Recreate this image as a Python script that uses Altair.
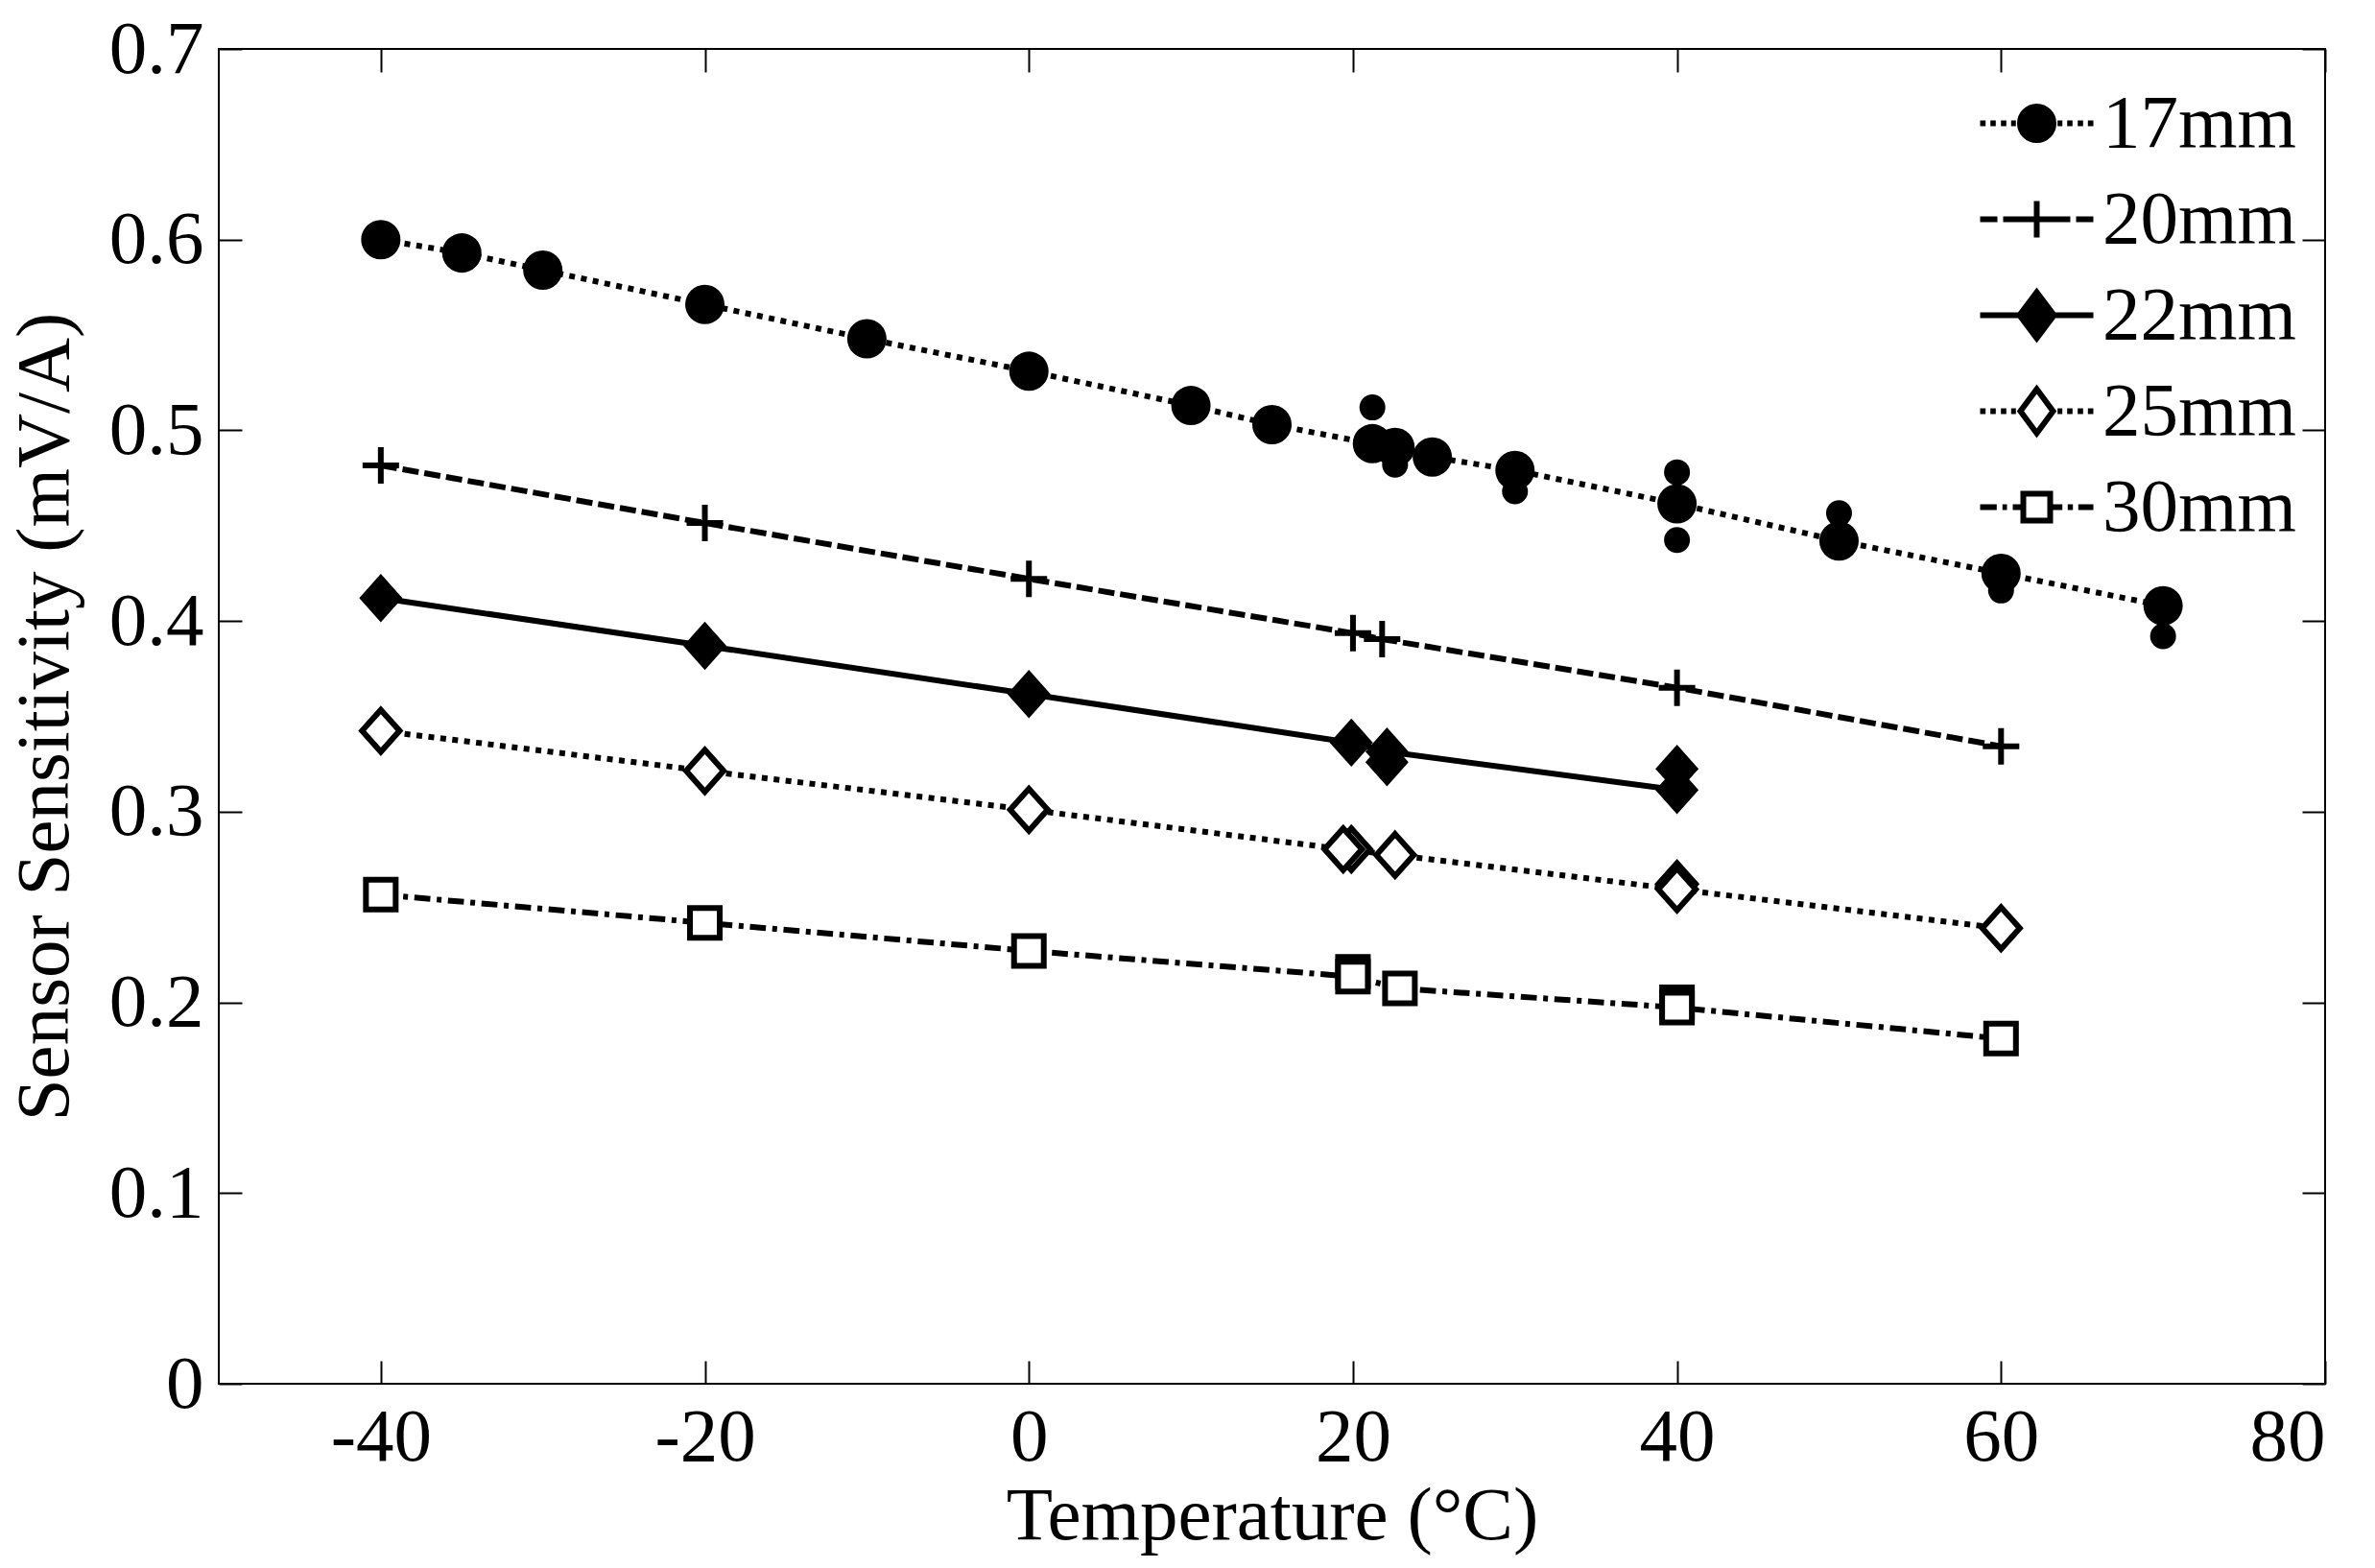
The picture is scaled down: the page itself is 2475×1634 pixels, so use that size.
import altair as alt
import pandas as pd

# ---------------- data ----------------
series_names = ["17mm", "20mm", "22mm", "25mm", "30mm"]

t17 = [-40, -35, -30, -20, -10, 0, 10, 15, 21.2, 22.6, 24.9, 30, 40, 50, 60, 70]
s17 = [0.600, 0.593, 0.584, 0.566, 0.548, 0.531, 0.513, 0.503, 0.493, 0.491,
       0.486, 0.479, 0.4615, 0.442, 0.425, 0.408]
t17x = [21.2, 22.6, 30, 40, 40, 50, 60, 70]
s17x = [0.512, 0.482, 0.468, 0.478, 0.4425, 0.4565, 0.416, 0.392]

t20 = [-40, -20, 0, 20, 21.8, 40, 60]
s20 = [0.4816, 0.4514, 0.4221, 0.3936, 0.3905, 0.3650, 0.3343]

t22 = [-40, -20, 0, 19.9, 22.1, 40]
s22 = [0.412, 0.387, 0.3617, 0.3362, 0.3315, 0.3114]
t22x = [22.1, 40]
s22x = [0.326, 0.3225]

t25 = [-40, -20, 0, 19.4, 22.6, 40, 60]
s25 = [0.3424, 0.3214, 0.301, 0.2803, 0.2773, 0.2593, 0.2389]
t25x = [19.9, 40]
s25x = [0.2803, 0.262]

t30 = [-40, -20, 0, 20, 22.9, 40, 60]
s30 = [0.2565, 0.2417, 0.227, 0.2135, 0.2073, 0.1973, 0.181]
t30x = [20, 40]
s30x = [0.216, 0.200]

x_ticks = [-40, -20, 0, 20, 40, 60, 80]
y_ticks = [0, 0.1, 0.2, 0.3, 0.4, 0.5, 0.6, 0.7]

# ---------------- styling ----------------
FONT = "Liberation Serif"
FS = 79
W, H = 2195, 1391
TICK = 24
LW = 6

xscale = alt.Scale(domain=[-50, 80], nice=False, zero=False)
yscale = alt.Scale(domain=[0, 0.7], nice=False, zero=False)


def df(ts, ss, name):
    return pd.DataFrame({"T": ts, "S": ss, "series": name})


d17, d17x = df(t17, s17, "17mm"), df(t17x, s17x, "17mm")
d20 = df(t20, s20, "20mm")
d22, d22x = df(t22, s22, "22mm"), df(t22x, s22x, "22mm")
d25, d25x = df(t25, s25, "25mm"), df(t25x, s25x, "25mm")
d30, d30x = df(t30, s30, "30mm"), df(t30x, s30x, "30mm")
all_df = pd.concat([d17, d20, d22, d25, d30], ignore_index=True)

x_main = alt.X(
    "T:Q", scale=xscale,
    axis=alt.Axis(values=x_ticks, labelExpr="'' + datum.value", tickSize=0,
                  domain=False, grid=False, labelPadding=17,
                  title="Temperature (°C)", titleX=W / 2, titleY=161,
                  titleBaseline="alphabetic", titleAlign="center"),
)
y_main = alt.Y(
    "S:Q", scale=yscale,
    axis=alt.Axis(values=y_ticks, labelExpr="'' + datum.value", tickSize=0,
                  domain=False, grid=False, labelPadding=16,
                  title="Sensor Sensitivity (mV/A)", titleX=-158, titleY=H / 2,
                  titleAngle=270, titleBaseline="alphabetic", titleAlign="center"),
)
x_plain = alt.X("T:Q", scale=xscale)
y_plain = alt.Y("S:Q", scale=yscale)

DOT = [6, 6.5]
DASH = [17, 6]
DASHDOT = [16.7, 6.7, 5, 6.7]

PLUS = "M-1,0H1M0,-1V1"
DIAM = "M0,-1.12L1,0L0,1.12L-1,0Z"


def line(d, dash):
    kw = dict(color="black", strokeWidth=LW, strokeCap="butt")
    if dash:
        kw["strokeDash"] = dash
    return alt.Chart(d).mark_line(**kw).encode(x=x_plain, y=y_plain)


def pts(d, **kw):
    return alt.Chart(d).mark_point(opacity=1, **kw).encode(x=x_plain, y=y_plain)


base_line17 = alt.Chart(d17).mark_line(color="black", strokeWidth=LW, strokeCap="butt",
                                       strokeDash=DOT).encode(x=x_main, y=y_main)

data_layer = alt.layer(
    base_line17,
    pts(d17x, shape="circle", size=729, filled=True, color="black", strokeWidth=0),
    pts(d17, shape="circle", size=1681, filled=True, color="black", strokeWidth=0),
    line(d20, DASH),
    pts(d20, shape=PLUS, size=1444, filled=False, stroke="black", strokeWidth=6),
    line(d22, None),
    pts(d22x, shape=DIAM, size=2025, filled=True, color="black", strokeWidth=0),
    pts(d22, shape=DIAM, size=2025, filled=True, color="black", strokeWidth=0),
    line(d25, DOT),
    pts(d25x, shape=DIAM, size=1521, filled=True, fill="white", stroke="black", strokeWidth=6),
    pts(d25, shape=DIAM, size=1521, filled=True, fill="white", stroke="black", strokeWidth=6),
    line(d30, DASHDOT),
    pts(d30x, shape="square", size=961, filled=True, fill="white", stroke="black", strokeWidth=6),
    pts(d30, shape="square", size=961, filled=True, fill="white", stroke="black", strokeWidth=6),
)


def tick_axis(orient_x, orient_y):
    return alt.Chart(all_df).mark_point(opacity=0).encode(
        x=alt.X("T:Q", scale=xscale,
                axis=alt.Axis(orient=orient_x, values=x_ticks, labels=False, domain=False,
                              grid=False, tickSize=TICK, tickWidth=2, offset=-TICK, title=None)),
        y=alt.Y("S:Q", scale=yscale,
                axis=alt.Axis(orient=orient_y, values=y_ticks, labels=False, domain=False,
                              grid=False, tickSize=TICK, tickWidth=2, offset=-TICK, title=None)),
    )


ticks_bl = tick_axis("bottom", "left")
ticks_tr = tick_axis("top", "right")

# ---------------- legend (line sample + marker as custom symbol paths) ----------------
R = 30.0  # symbol unit in px (sqrt(symbolSize)/2)


def segs(intervals):
    return "".join(f"M{a / R:.4f},0H{b / R:.4f}" for a, b in intervals)


def circ(r):
    r = r / R
    return f"M{r:.4f},0A{r:.4f},{r:.4f},0,1,1,{-r:.4f},0A{r:.4f},{r:.4f},0,1,1,{r:.4f},0Z"


def diam(hw, hh):
    return f"M0,{-hh / R:.4f}L{hw / R:.4f},0L0,{hh / R:.4f}L{-hw / R:.4f},0Z"


def sq(h):
    h = h / R
    return f"M{-h:.4f},{-h:.4f}H{h:.4f}V{h:.4f}H{-h:.4f}Z"


dots_l = [(-59, -53.3), (-48.3, -42.7), (-37.3, -31.7), (-26.7, -21.7)]
dots_r = [(21.7, 26.7), (31.7, 37.3), (42.7, 48.3), (53.3, 59)]
leg_paths = [
    segs(dots_l + dots_r) + circ(17.5),
    segs([(-59, -41), (-35, -19), (19, 35), (41, 59)])
    + f"M{-19 / R:.4f},0H{19 / R:.4f}M0,{-19 / R:.4f}V{19 / R:.4f}",
    segs([(-59, 59)]) + diam(18, 24),
    segs(dots_l + dots_r) + diam(17, 23),
    segs([(-59, -41.7), (-35.7, -31), (-25, -16), (16, 26.7), (32.3, 37.7), (43.3, 59)]) + sq(14),
]
leg_fill = ["black", "black", "black", "white", "white"]
leg_stroke = ["black"] * 5

leg_def = alt.Legend(
    orient="none", legendX=1855, legendY=38, title=None,
    labelFont=FONT, labelFontSize=FS, labelColor="black", labelLimit=600,
    symbolSize=3600, symbolStrokeWidth=6, labelOffset=29, rowPadding=20,
    padding=0, direction="vertical",
)

legend_layer = alt.Chart(all_df).transform_filter("false").mark_point(
    opacity=1, filled=True, strokeWidth=6
).encode(
    x=alt.X("T:Q", scale=xscale, axis=None),
    y=alt.Y("S:Q", scale=yscale, axis=None),
    shape=alt.Shape("series:N", scale=alt.Scale(domain=series_names, range=leg_paths), legend=leg_def),
    fill=alt.Fill("series:N", scale=alt.Scale(domain=series_names, range=leg_fill), legend=leg_def),
    stroke=alt.Stroke("series:N", scale=alt.Scale(domain=series_names, range=leg_stroke), legend=leg_def),
)

chart = alt.layer(data_layer, ticks_bl, ticks_tr, legend_layer).resolve_axis(
    x="independent", y="independent"
).properties(
    width=W, height=H,
    padding={"left": 220, "top": 43, "right": 40, "bottom": 180},
    autosize=alt.AutoSizeParams(type="none"),
    background="white",
).configure_axis(
    labelFont=FONT, labelFontSize=FS, labelColor="black",
    titleFont=FONT, titleFontSize=FS, titleFontWeight="normal", titleColor="black",
    tickColor="black", domainColor="black", grid=False,
).configure_view(
    stroke="black", strokeWidth=2,
)

chart.save("out.html", embed_options={"renderer": "svg", "actions": False})
